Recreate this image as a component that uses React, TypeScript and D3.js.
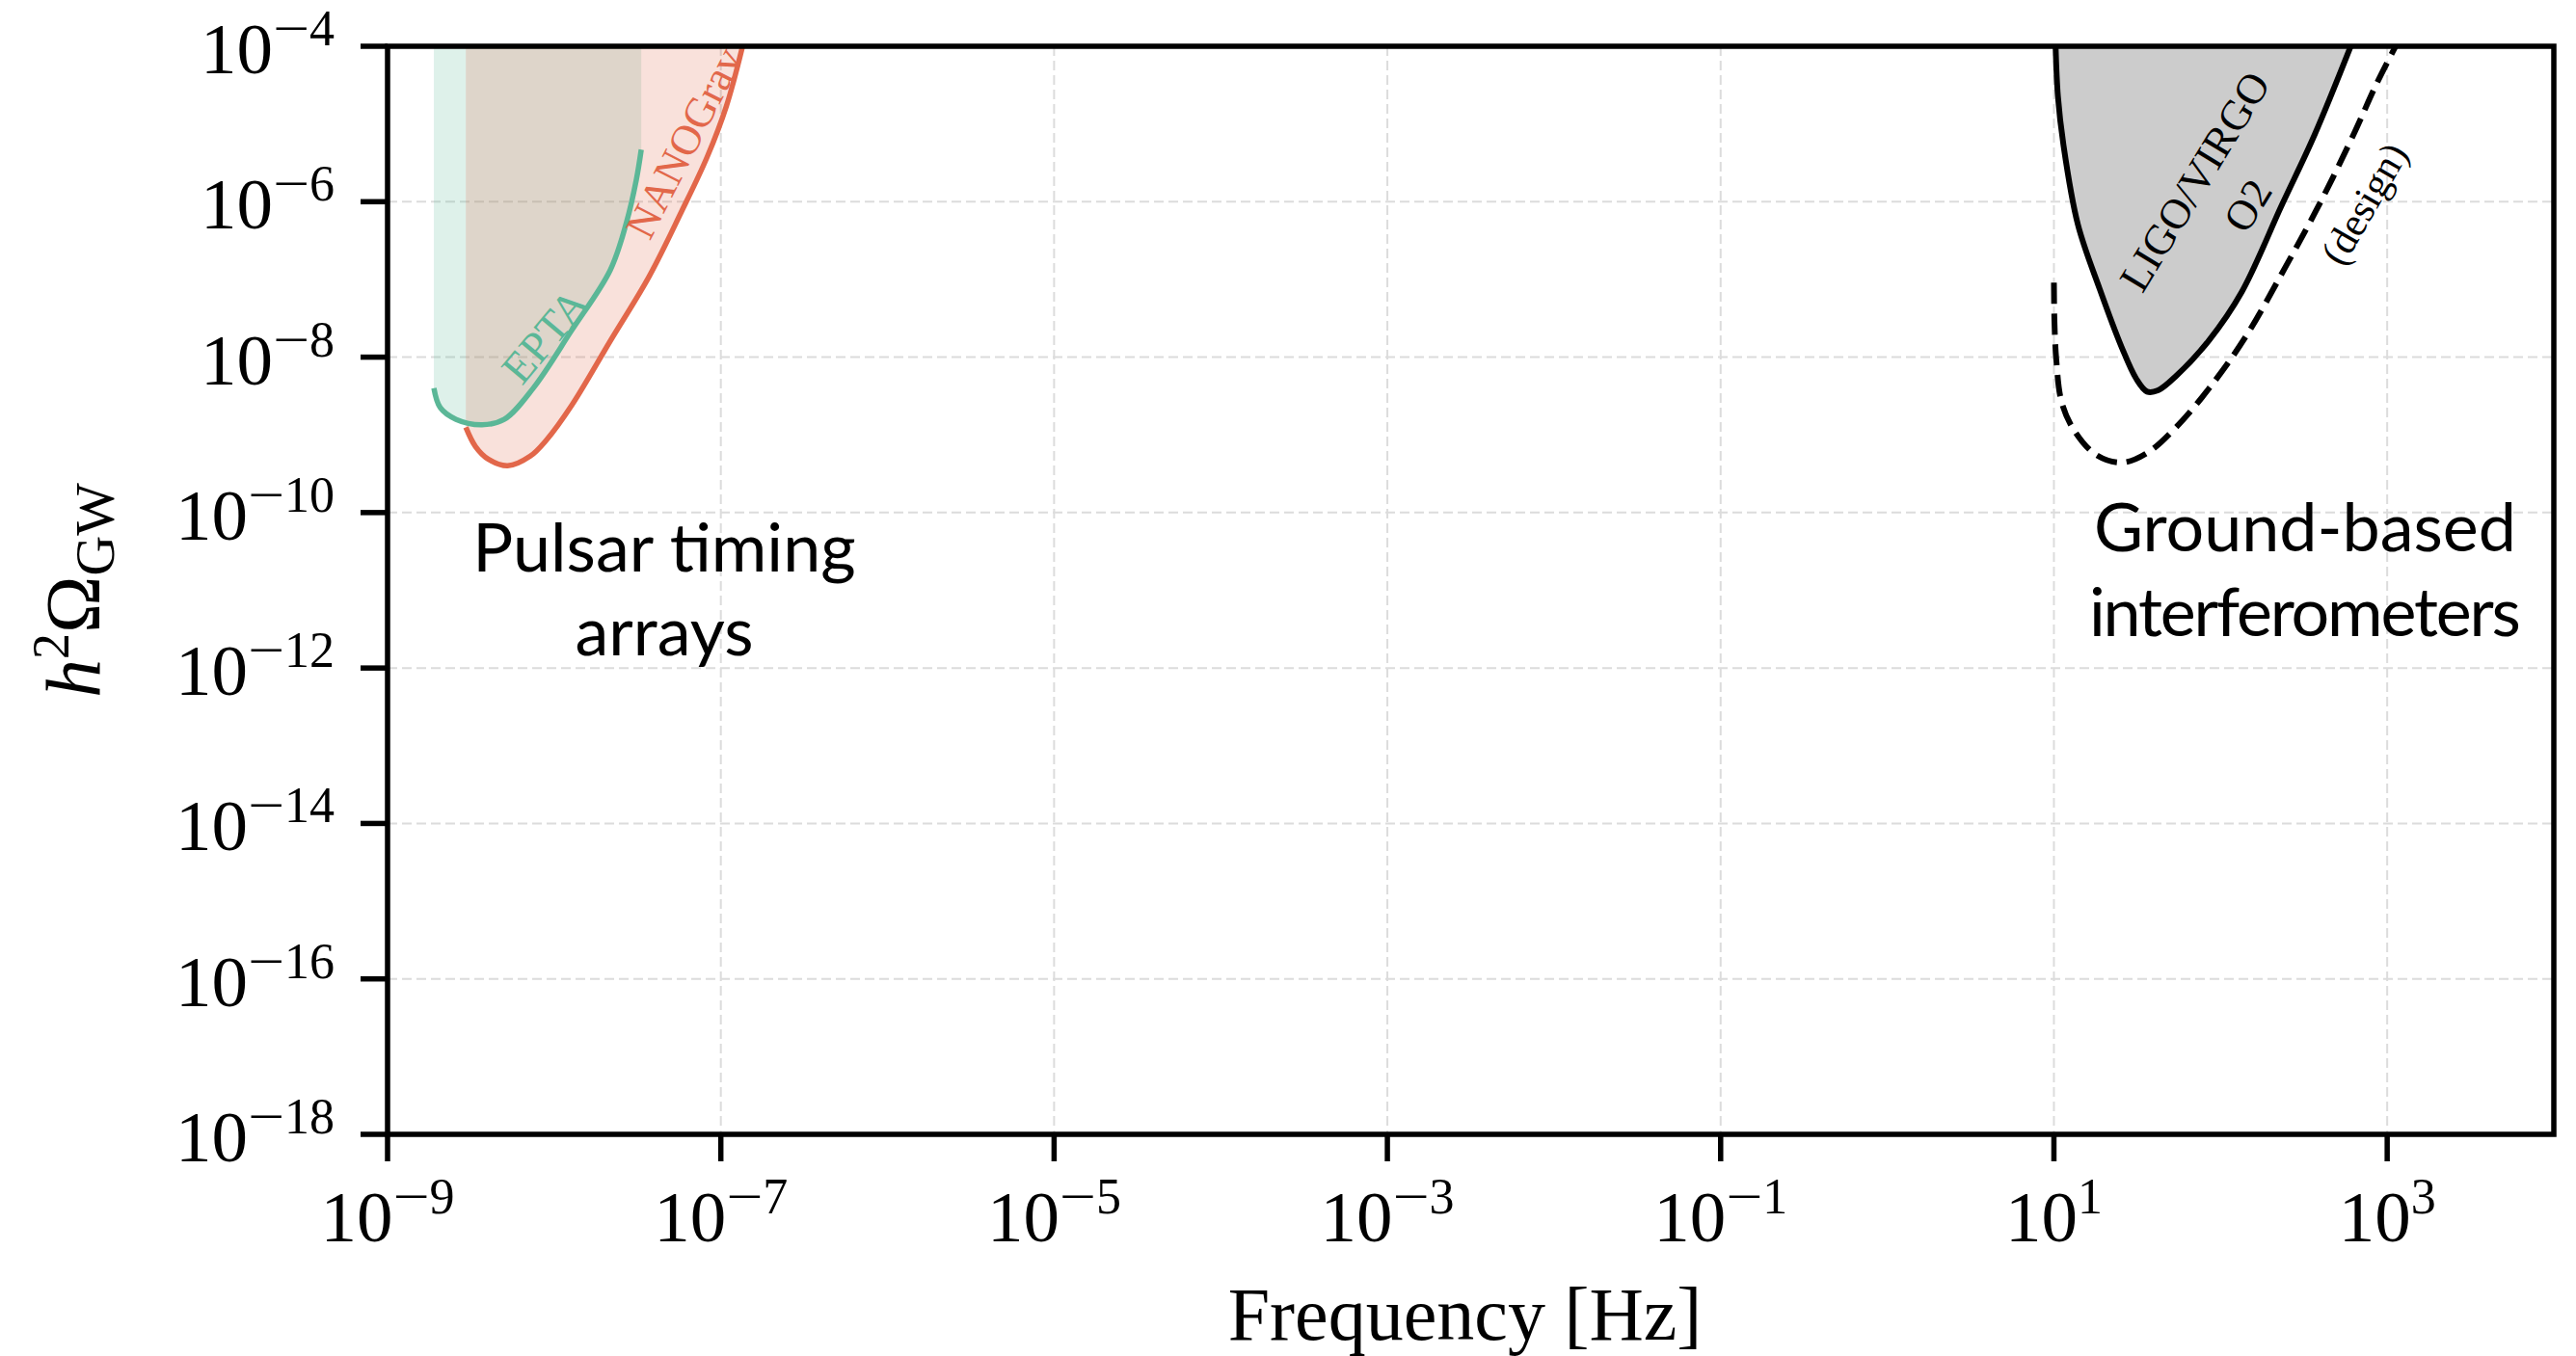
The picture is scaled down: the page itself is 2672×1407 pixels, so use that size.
import React from 'react';
import * as d3 from 'd3';

// ---------- data ----------
const xDomain: [number, number] = [1e-9, 1e4];
const yDomain: [number, number] = [1e-18, 1e-4];

const xTickValues = [1e-9, 1e-7, 1e-5, 1e-3, 1e-1, 1e1, 1e3];
const xTickExponents = ['-9', '-7', '-5', '-3', '-1', '1', '3'];
const yTickValues = [1e-4, 1e-6, 1e-8, 1e-10, 1e-12, 1e-14, 1e-16, 1e-18];
const yTickExponents = ['-4', '-6', '-8', '-10', '-12', '-14', '-16', '-18'];

// EPTA sensitivity curve
const eptaFreq = [1.897e-9, 2.07e-9, 2.58e-9, 3.69e-9, 5.01e-9, 7.48e-9, 1.27e-8, 2.17e-8, 2.72e-8, 3.11e-8, 3.33e-8];
const eptaOmega = [3.98e-9, 2.24e-9, 1.58e-9, 1.35e-9, 1.58e-9, 3.98e-9, 2.19e-8, 1.32e-7, 5.5e-7, 1.91e-6, 4.68e-6];

// NANOGrav sensitivity curve
const nanoFreq = [2.95e-9, 3.37e-9, 4.04e-9, 5.26e-9, 7.18e-9, 8.97e-9, 1.28e-8, 2.18e-8, 3.72e-8, 5.79e-8, 8.26e-8, 1.08e-7, 1.35e-7];
const nanoOmega = [1.25e-9, 7.08e-10, 4.83e-10, 4.0e-10, 5.32e-10, 8.55e-10, 2.44e-9, 1.64e-8, 1.1e-7, 7.36e-7, 3.72e-6, 1.7e-5, 1.0e-4];

// LIGO/VIRGO O2
const o2Freq = [10.2, 10.57, 11.4, 13.93, 18.84, 25.47, 31.19, 36.22, 42.17, 54.2, 85.31, 133.97, 232.8, 366.4, 620];
const o2Omega = [1.3e-4, 2.26e-5, 5.43e-6, 5.08e-7, 7.5e-8, 1.35e-8, 5.27e-9, 3.6e-9, 3.74e-9, 5.74e-9, 1.65e-8, 6.89e-8, 9.0e-7, 7.23e-6, 1.15e-4];

// LIGO design
const designFreq = [10, 10.07, 10.33, 11.12, 13.27, 17.95, 25.53, 36.22, 54.2, 85.31, 140.9, 245.5, 405.5, 638.3, 863, 1150];
const designOmega = [9.08e-8, 2.92e-8, 9.33e-9, 2.65e-9, 1.13e-9, 5.52e-10, 4.4e-10, 5.85e-10, 1.26e-9, 3.96e-9, 1.8e-8, 1.45e-7, 1.07e-6, 7.87e-6, 3.28e-5, 1.1e-4];

// ---------- styling ----------
const W = 2672;
const H = 1407;
const PL = 402, PR = 2649, PT = 48, PB = 1177;
const SERIF = '"Liberation Serif", "Times New Roman", serif';
const SANS = 'Lato, "Noto Sans", sans-serif';
const TEAL = '#5BB797';
const ORANGE = '#E2674A';

type Pt = [number, number];
const zip = (a: number[], b: number[]): Pt[] => a.map((v, i) => [v, b[i]]);

function Pow({ exp }: { exp: string }) {
  const neg = exp.startsWith('-');
  const digits = neg ? exp.slice(1) : exp;
  return (
    <>
      10
      {neg ? (
        <>
          <tspan dy={-29} fontSize={52} textLength={38} lengthAdjust="spacingAndGlyphs">{'\u2212'}</tspan>
          <tspan fontSize={52}>{digits}</tspan>
        </>
      ) : (
        <tspan dy={-29} fontSize={52}>{digits}</tspan>
      )}
    </>
  );
}

export default function App() {
  const x = d3.scaleLog().domain(xDomain).range([PL, PR]);
  const y = d3.scaleLog().domain(yDomain).range([PB, PT]);
  const topY = y(1e-4);

  const curve = d3.curveCatmullRom.alpha(0.5);
  const line = d3.line<Pt>().x(d => x(d[0])).y(d => y(d[1])).curve(curve);
  const area = d3.area<Pt>().x(d => x(d[0])).y0(topY).y1(d => y(d[1])).curve(curve);

  const epta = zip(eptaFreq, eptaOmega);
  const nano = zip(nanoFreq, nanoOmega);
  const o2 = zip(o2Freq, o2Omega);
  const design = zip(designFreq, designOmega);

  const rot = (f: number, o: number, a: number) => `translate(${x(f)},${y(o)}) rotate(${a})`;

  return (
    <svg width={W} height={H} viewBox={`0 0 ${W} ${H}`} style={{ position: 'absolute', left: 0, top: 0, display: 'block', background: '#fff' }}>
      <defs>
        <clipPath id="plotClip">
          <rect x={PL} y={PT} width={PR - PL} height={PB - PT} />
        </clipPath>
      </defs>
      <rect x={0} y={0} width={W} height={H} fill="#fff" />

      {/* grid */}
      <g stroke="#dcdcdc" strokeWidth={2} strokeDasharray="10 5">
        {xTickValues.map((v, i) => (
          <line key={'gx' + i} x1={x(v)} x2={x(v)} y1={PT} y2={PB} />
        ))}
        {yTickValues.map((v, i) => (
          <line key={'gy' + i} x1={PL} x2={PR} y1={y(v)} y2={y(v)} />
        ))}
      </g>

      <g clipPath="url(#plotClip)">
        {/* fills */}
        <path d={area(epta) || ''} fill={TEAL} fillOpacity={0.2} />
        <path d={area(nano) || ''} fill={ORANGE} fillOpacity={0.2} />
        <path d={area(o2) || ''} fill="#cccccc" />
        {/* lines */}
        <path d={line(epta) || ''} fill="none" stroke={TEAL} strokeWidth={5.5} />
        <path d={line(nano) || ''} fill="none" stroke={ORANGE} strokeWidth={5.5} />
        <path d={line(o2) || ''} fill="none" stroke="#000" strokeWidth={6} />
        <path d={line(design) || ''} fill="none" stroke="#000" strokeWidth={6} strokeDasharray="22 10" />
      </g>

      {/* curve labels */}
      <text transform={rot(8.77e-9, 1.905e-8, -50)} textAnchor="middle" dy="0.35em" fontFamily={SERIF} fontSize={46} fill={TEAL}>EPTA</text>
      <text transform={rot(5.97e-8, 5.75e-6, -63)} textAnchor="middle" dy="0.35em" fontFamily={SERIF} fontSize={44} fill={ORANGE}>NANOGrav</text>
      <text transform={rot(69.5, 1.84e-6, -58.6)} textAnchor="middle" dy="0.35em" fontFamily={SERIF} fontSize={44} fill="#000">LIGO/VIRGO</text>
      <text transform={rot(144.5, 9.0e-7, -58.6)} textAnchor="middle" dy="0.35em" fontFamily={SERIF} fontSize={44} fill="#000">O2</text>
      <text transform={rot(724, 9.5e-7, -60)} textAnchor="middle" dy="0.35em" fontFamily={SERIF} fontSize={42} fill="#000">(design)</text>

      {/* region labels */}
      <g fontFamily={SANS} fontSize={70} fill="#000" textAnchor="middle">
        <text x={x(4.575e-8)} y={y(1.745e-11)}>Pulsar timing</text>
        <text x={x(4.575e-8)} y={y(1.745e-11) + 87}>arrays</text>
        <text x={x(321.3)} y={y(3.2e-11)}>Ground-based</text>
        <text x={x(321.3)} y={y(3.2e-11) + 88} textLength={448} lengthAdjust="spacing">interferometers</text>
      </g>

      {/* spines */}
      <rect x={PL} y={PT} width={PR - PL} height={PB - PT} fill="none" stroke="#000" strokeWidth={5.5} />

      {/* ticks */}
      <g stroke="#000" strokeWidth={5.5}>
        {xTickValues.map((v, i) => (
          <line key={'tx' + i} x1={x(v)} x2={x(v)} y1={PB} y2={PB + 28} />
        ))}
        {yTickValues.map((v, i) => (
          <line key={'ty' + i} x1={PL - 28} x2={PL} y1={y(v)} y2={y(v)} />
        ))}
      </g>

      {/* tick labels */}
      <g fontFamily={SERIF} fill="#000">
        {xTickValues.map((v, i) => (
          <text key={'lx' + i} x={x(v)} y={1288} textAnchor="middle" fontSize={75}>
            <Pow exp={xTickExponents[i]} />
          </text>
        ))}
        {yTickValues.map((v, i) => (
          <text key={'ly' + i} x={347} y={y(v) + 28} textAnchor="end" fontSize={75}>
            <Pow exp={yTickExponents[i]} />
          </text>
        ))}
      </g>

      {/* axis labels */}
      <text x={(PL + PR) / 2 - 6} y={1390} textAnchor="middle" fontFamily={SERIF} fontSize={78} fill="#000">Frequency [Hz]</text>
      <text transform={`translate(103,${(PT + PB) / 2}) rotate(-90)`} textAnchor="middle" fontFamily={SERIF} fontSize={80} fill="#000">
        <tspan fontStyle="italic">h</tspan>
        <tspan dy={-32} fontSize={54}>2</tspan>
        <tspan dy={32}>Ω</tspan>
        <tspan dy={15} fontSize={58}>GW</tspan>
      </text>
    </svg>
  );
}
